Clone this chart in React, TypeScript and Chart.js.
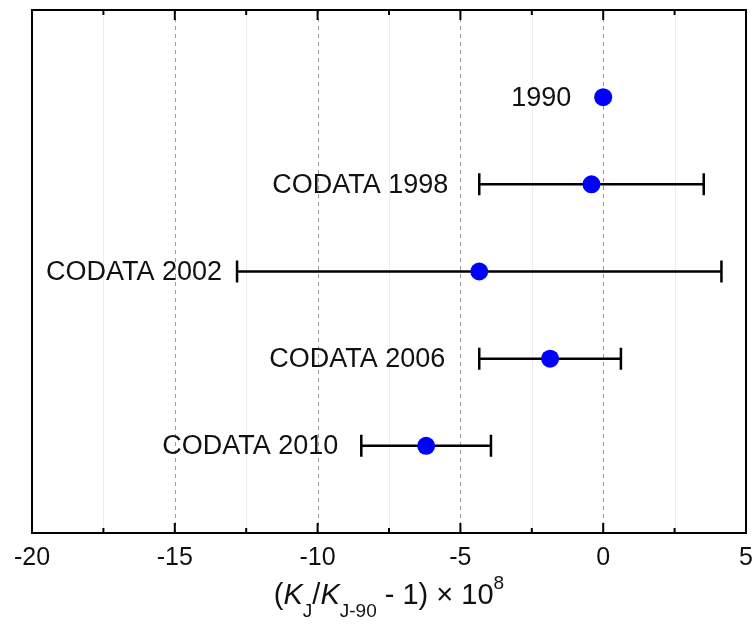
import React, { useEffect, useRef } from "react";
import { Chart, registerables } from "chart.js";

Chart.register(...registerables);

// ---- data ----
const seriesLabels: string[] = ["1990", "CODATA 1998", "CODATA 2002", "CODATA 2006", "CODATA 2010"];
const values: number[] = [0, -0.41, -4.34, -1.86, -6.2];
const uncertainties: number[] = [0, 3.93, 8.48, 2.48, 2.27];
const rows: number[] = [5, 4, 3, 2, 1];
const majorTicks: number[] = [-20, -15, -10, -5, 0, 5];

// ---- style (pixel gaps between label end and bar start) ----
const labelGaps = [32, 31, 15, 34, 23];
const FONT = "'Liberation Sans', Arial, Helvetica, sans-serif";

const customPlugin = {
  id: "customDraw",
  beforeDatasetsDraw(chart: any) {
    const { ctx, chartArea: a, scales } = chart;
    const x = scales.x;
    const y = scales.y;
    // grid lines
    x.ticks.forEach((t: any) => {
      const px = x.getPixelForValue(t.value);
      if (px <= a.left + 1 || px >= a.right - 1) return;
      const major = majorTicks.some((m) => Math.abs(m - t.value) < 1e-9);
      ctx.save();
      ctx.beginPath();
      if (major) {
        ctx.strokeStyle = "#9c9c9c";
        ctx.lineWidth = 1;
        ctx.setLineDash([4, 4]);
      } else {
        ctx.strokeStyle = "#ececec";
        ctx.lineWidth = 1;
      }
      ctx.moveTo(Math.round(px) + 0.5, a.top);
      ctx.lineTo(Math.round(px) + 0.5, a.bottom);
      ctx.stroke();
      ctx.restore();
    });
    // error bars
    ctx.save();
    ctx.strokeStyle = "#000";
    ctx.lineWidth = 2.5;
    values.forEach((v, i) => {
      const u = uncertainties[i];
      if (u <= 0) return;
      const py = y.getPixelForValue(rows[i]);
      const x1 = x.getPixelForValue(v - u);
      const x2 = x.getPixelForValue(v + u);
      ctx.beginPath();
      ctx.moveTo(x1, py);
      ctx.lineTo(x2, py);
      ctx.moveTo(x1, py - 11);
      ctx.lineTo(x1, py + 11);
      ctx.moveTo(x2, py - 11);
      ctx.lineTo(x2, py + 11);
      ctx.stroke();
    });
    ctx.restore();
    // labels
    ctx.save();
    ctx.fillStyle = "#111";
    ctx.font = `27px ${FONT}`;
    ctx.textAlign = "right";
    ctx.textBaseline = "middle";
    seriesLabels.forEach((lab, i) => {
      const py = y.getPixelForValue(rows[i]);
      const px = x.getPixelForValue(values[i] - uncertainties[i]);
      ctx.fillText(lab, px - labelGaps[i], py + 1);
    });
    ctx.restore();
  },
  afterDraw(chart: any) {
    const { ctx, chartArea: a, scales } = chart;
    const x = scales.x;
    ctx.save();
    // ticks (inward, top and bottom)
    ctx.strokeStyle = "#000";
    ctx.lineWidth = 2;
    x.ticks.forEach((t: any) => {
      const px = x.getPixelForValue(t.value);
      if (px <= a.left + 1 || px >= a.right - 1) return;
      const major = majorTicks.some((m) => Math.abs(m - t.value) < 1e-9);
      const len = major ? 10 : 5;
      ctx.beginPath();
      ctx.moveTo(px, a.bottom);
      ctx.lineTo(px, a.bottom - len);
      ctx.moveTo(px, a.top);
      ctx.lineTo(px, a.top + len);
      ctx.stroke();
    });
    // frame
    ctx.lineWidth = 2;
    ctx.strokeRect(a.left, a.top, a.right - a.left, a.bottom - a.top);
    // axis title
    const cx = (a.left + a.right) / 2;
    const base = 604;
    const mainF = `29px ${FONT}`;
    const mainI = `italic 29px ${FONT}`;
    const subF = `19px ${FONT}`;
    const parts: { t: string; f: string; dy: number }[] = [
      { t: "(", f: mainF, dy: 0 },
      { t: "K", f: mainI, dy: 0 },
      { t: "J", f: subF, dy: 13 },
      { t: "/", f: mainF, dy: 0 },
      { t: "K", f: mainI, dy: 0 },
      { t: "J-90", f: subF, dy: 13 },
      { t: " - 1) \u00d7 10", f: mainF, dy: 0 },
      { t: "8", f: subF, dy: -15 },
    ];
    let total = 0;
    const widths = parts.map((p) => {
      ctx.font = p.f;
      const w = ctx.measureText(p.t).width;
      total += w;
      return w;
    });
    let cur = cx - total / 2;
    ctx.fillStyle = "#111";
    ctx.textAlign = "left";
    ctx.textBaseline = "alphabetic";
    parts.forEach((p, i) => {
      ctx.font = p.f;
      ctx.fillText(p.t, cur, base + p.dy);
      cur += widths[i];
    });
    ctx.restore();
  },
};

export default function App() {
  const ref = useRef<HTMLCanvasElement | null>(null);
  useEffect(() => {
    if (!ref.current) return;
    const chart = new Chart(ref.current, {
      type: "scatter",
      data: {
        datasets: [
          {
            label: "K_J",
            data: values.map((v, i) => ({ x: v, y: rows[i] })),
            backgroundColor: "#0000ff",
            borderColor: "#0000ff",
            pointRadius: 9,
            pointHoverRadius: 9,
            borderWidth: 0,
          },
        ],
      },
      options: {
        animation: false,
        responsive: false,
        devicePixelRatio: 1,
        layout: { padding: { left: 32, right: 8, top: 10, bottom: 0 } },
        plugins: { legend: { display: false }, tooltip: { enabled: false }, title: { display: false } },
        scales: {
          x: {
            type: "linear",
            min: -20,
            max: 5,
            grid: { display: false, drawTicks: false },
            border: { display: false },
            ticks: {
              stepSize: 2.5,
              autoSkip: false,
              maxRotation: 0,
              padding: 10,
              color: "#111",
              font: { family: FONT, size: 25 },
              callback: (v: any) => (majorTicks.includes(Number(v)) ? String(v) : ""),
            },
            afterFit: (scale: any) => {
              scale.height = 101;
              scale.paddingLeft = 0;
              scale.paddingRight = 0;
            },
          },
          y: {
            type: "linear",
            min: 0,
            max: 6,
            display: false,
          },
        },
      },
      plugins: [customPlugin],
    });
    return () => chart.destroy();
  }, []);
  return (
    <div style={{ position: "fixed", left: 0, top: 0, width: 755, height: 634, background: "#fff" }}>
      <canvas ref={ref} width={755} height={634} style={{ width: 755, height: 634 }} />
    </div>
  );
}
